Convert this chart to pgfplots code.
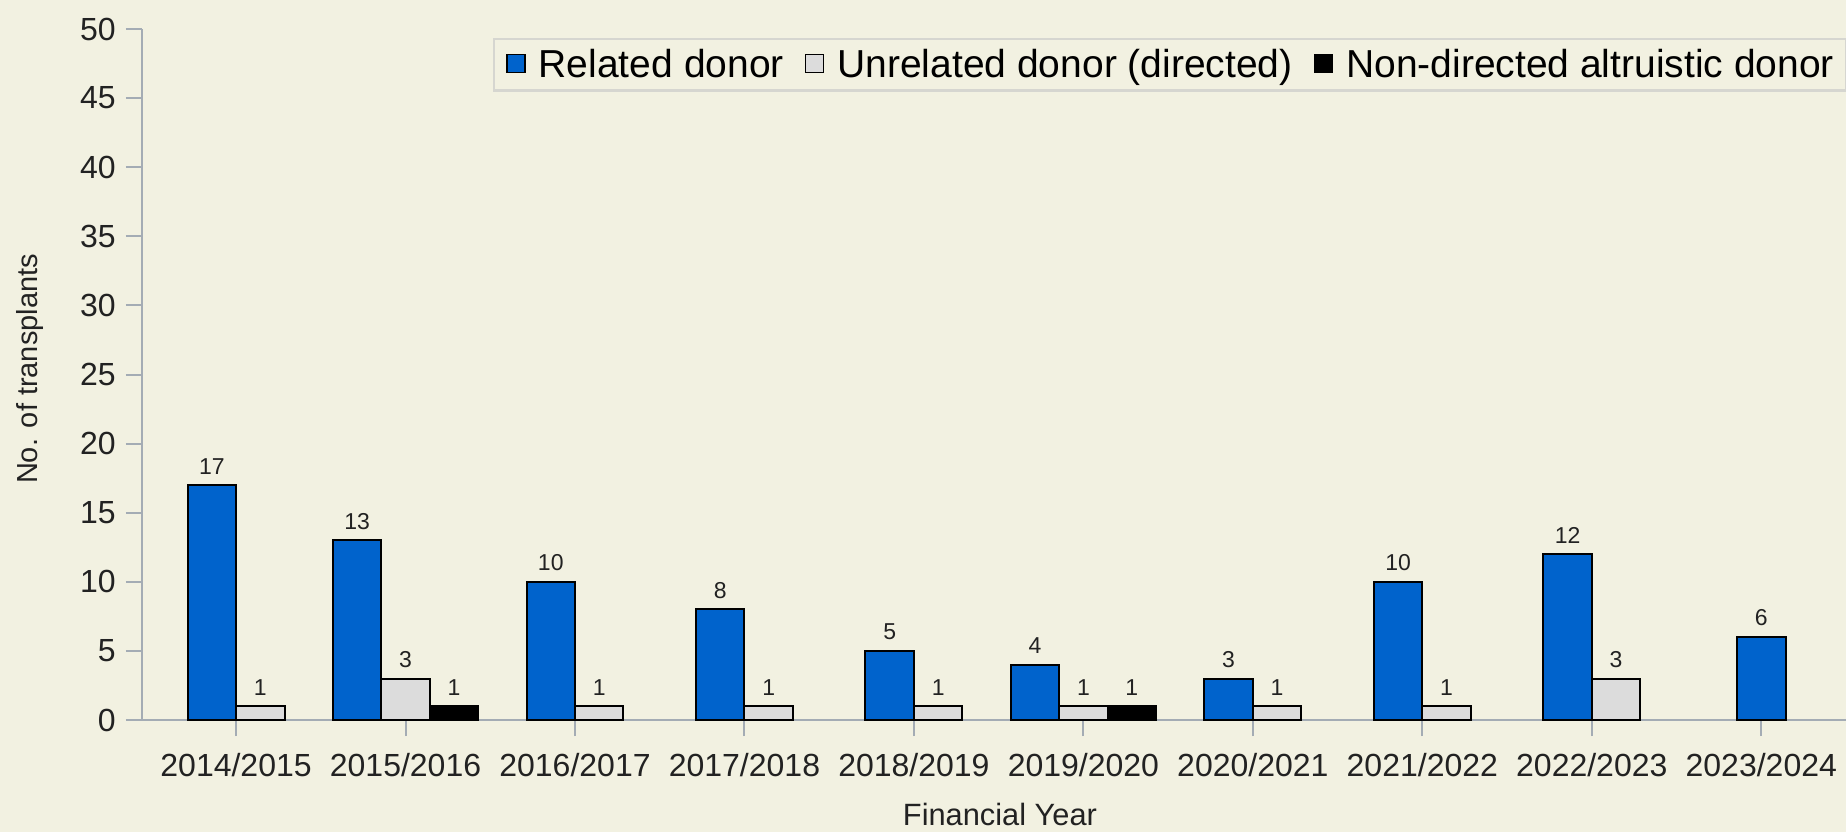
\documentclass[border=0pt]{standalone}
\usepackage{fontspec}
\setmainfont{Liberation Sans}
\usepackage{pgfplots}
\pgfplotsset{compat=1.18}
\definecolor{bg}{RGB}{242,241,225}
\definecolor{axisgray}{RGB}{164,172,180}
\definecolor{legendgray}{RGB}{214,214,208}
\definecolor{barblue}{RGB}{0,99,204}
\definecolor{bargray}{RGB}{220,220,220}
\definecolor{txt}{RGB}{34,34,34}
\begin{document}
\begin{tikzpicture}
\fill[bg] (-71pt,-56pt) rectangle (852pt,360pt);
\begin{axis}[
  at={(0,0)}, anchor=south west,
  scale only axis, width=852pt, height=345.5pt,
  xmin=-0.555, xmax=9.5, ymin=0, ymax=50,
  axis lines*=left,
  axis line style={axisgray, line width=1pt},
  every tick/.style={axisgray, line width=1pt},
  tick align=outside, major tick length=8pt,
  xtick={0,...,9},
  xticklabels={2014/2015,2015/2016,2016/2017,2017/2018,2018/2019,2019/2020,2020/2021,2021/2022,2022/2023,2023/2024},
  ytick={0,5,...,50},
  /pgf/number format/assume math mode=true,
  xticklabel style={font=\fontsize{16}{18}\selectfont, text=txt, anchor=north, inner sep=0pt},
  yticklabel style={font=\fontsize{16}{18}\selectfont, text=txt, anchor=east, inner sep=0pt},
  xticklabel shift=8.5pt, yticklabel shift=5pt,
  xlabel={Financial Year}, ylabel={No. of transplants},
  every axis x label/.style={at={(axis description cs:0.5035,-0.152)}, anchor=base, font=\fontsize{15.4}{17}\selectfont, text=txt},
  every axis y label/.style={at={(axis description cs:-0.0616,0.508)}, rotate=90, anchor=base, font=\fontsize{14.5}{16}\selectfont, text=txt},
  ybar, bar width=0.286, bar shift=0pt,
  every axis plot/.append style={draw=black, line width=1pt},
  nodes near coords,
  every node near coord/.append style={font=\fontsize{11.5}{13}\selectfont, text=txt, anchor=south, inner sep=0pt, yshift=5pt},
  legend columns=-1,
  legend image code/.code={\draw[#1, line width=0.8pt] (0pt,2.5pt) rectangle (9pt,11.5pt);},
  legend style={at={(axis description cs:0.206,0.987)}, anchor=north west,
    draw=legendgray, line width=1.2pt, fill=bg,
    font=\fontsize{19.5}{21}\selectfont, text=black,
    inner xsep=6pt, inner ysep=5pt,
    nodes={inner sep=0pt},
    cells={anchor=base west},
    /tikz/every odd column/.append style={column sep=6.5pt},
    /tikz/every even column/.append style={column sep=10.5pt}},
]
\addplot[fill=barblue] coordinates {(-0.143,17) (0.714,13) (1.857,10) (2.857,8) (3.857,5) (4.714,4) (5.857,3) (6.857,10) (7.857,12) (9,6)};
\addlegendentry{Related donor}
\addplot[fill=bargray] coordinates {(0.143,1) (1,3) (2.143,1) (3.143,1) (4.143,1) (5,1) (6.143,1) (7.143,1) (8.143,3)};
\addlegendentry{Unrelated donor (directed)}
\addplot[fill=black] coordinates {(1.286,1) (5.286,1)};
\addlegendentry{Non-directed altruistic donor}
\end{axis}
\pgfresetboundingbox
\path[use as bounding box] (-71pt,-56pt) rectangle (852pt,360pt);
\end{tikzpicture}
\end{document}
